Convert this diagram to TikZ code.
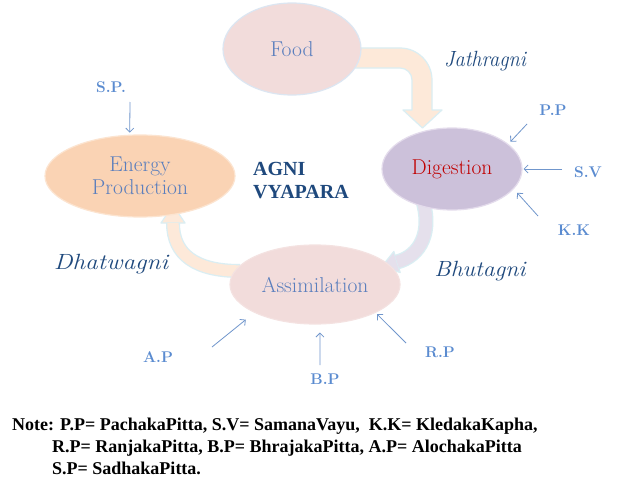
\documentclass[tikz,border=0pt]{standalone}
\usepackage{fontspec}
\newfontfamily\timesfont{Liberation Serif}[BoldFont={Liberation Serif Bold}]
\usetikzlibrary{shapes.geometric,arrows.meta}
\definecolor{foodfill}{HTML}{F2DCDB}
\definecolor{foodedge}{HTML}{DCE6F2}
\definecolor{digfill}{HTML}{CCC1DA}
\definecolor{digedge}{HTML}{E4DCEC}
\definecolor{enfill}{HTML}{FAD3B4}
\definecolor{enedge}{HTML}{FCE4D0}
\definecolor{asedge}{HTML}{F4E2E1}
\definecolor{bubtext}{HTML}{5A7EBD}
\definecolor{digtext}{HTML}{C00000}
\definecolor{agniblue}{HTML}{1F497D}
\definecolor{lblblue}{HTML}{5A8BD0}
\definecolor{arrblue}{HTML}{7096CC}
\definecolor{bandedge}{HTML}{DAEEF3}
\definecolor{peachband}{HTML}{FDE9D9}
\definecolor{lavband}{HTML}{E5E0EC}
\begin{document}
\begin{tikzpicture}[x=1pt,y=1pt,
  bubble/.style={ellipse, inner sep=0pt, align=center, line width=1.2pt,
    text=bubtext, font=\fontsize{21.5}{23}\selectfont},
  agnilbl/.style={inner sep=0pt, text=agniblue, font=\itshape\fontsize{22}{26}\selectfont},
  lbl/.style={inner sep=0pt, text=lblblue, font=\bfseries\fontsize{15.5}{17}\selectfont},
  thinarr/.style={draw=arrblue, line width=0.8pt, -{Straight Barb[length=4pt,width=8pt]}},
  notetxt/.style={inner sep=0pt, anchor=base west, font=\timesfont\bfseries\fontsize{18}{22}\selectfont},
  headstyle/.style={draw=bandedge, line width=1.2pt, line join=round}
]
\fill[white] (0,0) rectangle (634,-487);
\useasboundingbox (0,0) rectangle (634,-487);

% block arrow Food -> Digestion
\draw[bandedge, line width=1.2pt, fill=peachband, line join=round]
  (340,-48) -- (400,-48) arc[start angle=90,end angle=0,radius=32]
  -- (432,-110) -- (442,-110) -- (422.5,-128) -- (403,-110) -- (412,-110)
  -- (412,-80) arc[start angle=0,end angle=90,radius=12] -- (340,-68) -- cycle;

% curved band Digestion -> Assimilation
\draw[bandedge, line width=15pt] (421,-195) .. controls (434,-232) and (420,-256) .. (397,-262);
\filldraw[headstyle, fill=lavband] (400.2,-272.5) -- (381.7,-266.7) -- (393.8,-251.5) -- cycle;
\draw[lavband, line width=12.4pt] (421,-195) .. controls (434,-232) and (420,-256) .. (397,-262);

% curved band Assimilation -> Energy Production
\draw[bandedge, line width=14pt] (240,-271) .. controls (196,-271) and (173,-255) .. (173,-223);
\filldraw[headstyle, fill=peachband] (161,-223) -- (173,-205) -- (185,-223) -- cycle;
\draw[peachband, line width=11.4pt] (240,-271) .. controls (196,-271) and (173,-255) .. (173,-223);

% ellipses
\node[bubble, fill=foodfill, draw=foodedge, minimum width=138pt, minimum height=92pt] (food) at (292,-49) {Food};
\node[bubble, fill=digfill, draw=digedge, minimum width=140pt, minimum height=82pt, text=digtext] (dig) at (452,-169) {Digestion};
\node[bubble, fill=enfill, draw=enedge, minimum width=190pt, minimum height=82pt] (en) at (140,-176) {Energy\\Production};
\node[bubble, fill=foodfill, draw=asedge, minimum width=170pt, minimum height=79pt] (as) at (315,-284.5) {Assimilation};

% agni labels
\node[agnilbl] (jath) at (485,-61) {\scalebox{0.93}[1]{Jathragni}};
\node[agnilbl] (dhat) at (111,-264) {\scalebox{1.15}[1]{Dhatwagni}};
\node[agnilbl] (bhut) at (480,-271) {\scalebox{1.08}[1]{Bhutagni}};
\node[inner sep=0pt, anchor=west, align=left, text=agniblue,
  font=\timesfont\bfseries\fontsize{20}{23}\selectfont] (agni) at (253,-180.5) {AGNI\\VYAPARA};

% small labels
\node[lbl] (sp) at (111,-87) {S.P.};
\node[lbl] (pp) at (553,-110) {P.P};
\node[lbl] (sv) at (588,-172) {S.V};
\node[lbl] (kk) at (574,-230) {K.K};
\node[lbl] (ap) at (158,-357) {A.P};
\node[lbl] (bp) at (325,-379) {B.P};
\node[lbl] (rp) at (440,-352) {R.P};

% thin arrows
\coordinate (spS) at (130,-102);
\coordinate (ppS) at (527,-124);
\coordinate (svS) at (562,-169);
\coordinate (kkS) at (538,-216);
\coordinate (apS) at (212,-347);
\coordinate (bpS) at (320,-365);
\coordinate (rpS) at (406,-343);
\draw[thinarr, shorten >=2pt] (spS) -- (en.104);
\draw[thinarr, shorten >=3pt] (ppS) -- (dig.24);
\draw[thinarr, shorten >=1pt] (svS) -- (dig.east);
\draw[thinarr, shorten >=5pt] (kkS) -- (dig.-18);
\draw[thinarr, shorten >=11pt] (apS) -- (as.205);
\draw[thinarr, shorten >=8pt] (bpS) -- (as.-83);
\draw[thinarr, shorten >=2pt] (rpS) -- (as.-25);

% note
\node[notetxt] (n1) at (12,-430) {Note: P.P= PachakaPitta, S.V= SamanaVayu,\ \ K.K= KledakaKapha,};
\node[notetxt] (n2) at (52,-452) {R.P= RanjakaPitta, B.P= BhrajakaPitta, A.P= AlochakaPitta};
\node[notetxt] (n3) at (52,-474) {S.P= SadhakaPitta.};
\end{tikzpicture}
\end{document}
